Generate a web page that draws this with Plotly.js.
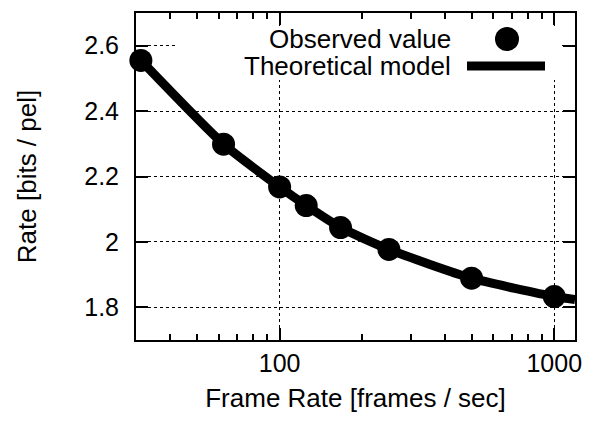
<!DOCTYPE html>
<html>
<head>
<meta charset="utf-8">
<script src="https://cdn.plot.ly/plotly-3.0.1.min.js"></script>
<style>html,body{margin:0;padding:0;background:#fff;}#chart{width:594px;height:422px;}</style>
</head>
<body>
<div id="chart"></div>
<script>
// Observed values
var obsFrameRate = [31.25, 62.5, 100, 125, 166.7, 250, 500, 1000];
var obsRate = [2.555, 2.299, 2.168, 2.111, 2.044, 1.977, 1.889, 1.833];
// Theoretical model curve
var modelFrameRate = [31.25, 62.5, 100, 125, 166.7, 250, 500, 1000, 1190];
var modelRate = [2.555, 2.299, 2.168, 2.111, 2.044, 1.977, 1.889, 1.833, 1.824];
// Labels
var seriesNames = ["Observed value", "Theoretical model"];
var xTitle = "Frame Rate [frames / sec]";
var yTitle = "Rate [bits / pel]";
var yTickVals = [1.8, 2, 2.2, 2.4, 2.6];
var xTickVals = [100, 1000];

var FONT = "Liberation Sans, Arial, Helvetica, sans-serif";

var traces = [
  {
    x: modelFrameRate, y: modelRate, type: "scatter", mode: "lines",
    name: seriesNames[1], line: {color: "#000", width: 9, shape: "spline", smoothing: 0.6},
    showlegend: false, hoverinfo: "skip"
  },
  {
    x: obsFrameRate, y: obsRate, type: "scatter", mode: "markers",
    name: seriesNames[0], marker: {color: "#000", size: 23, symbol: "circle"},
    cliponaxis: false, showlegend: false
  }
];

// legend geometry in paper coordinates (plot area 439 x 327 px)
function px(x) { return (x - 136) / 439; }
function py(y) { return (340 - y) / 327; }

var layout = {
  width: 594, height: 422,
  margin: {l: 136, r: 19, t: 13, b: 82, pad: 0},
  paper_bgcolor: "#fff", plot_bgcolor: "#fff",
  font: {family: FONT, color: "#000", size: 25},
  showlegend: false,
  xaxis: {
    type: "log",
    range: [Math.log10(30), Math.log10(1190)],
    tickvals: xTickVals, ticktext: xTickVals.map(String),
    ticks: "inside", ticklen: 12, tickwidth: 2, tickcolor: "#000",
    minor: {dtick: "D1", ticks: "inside", ticklen: 6, tickwidth: 2, tickcolor: "#000", showgrid: false},
    showline: true, linecolor: "#000", linewidth: 2, mirror: "allticks",
    showgrid: true, gridcolor: "#000", gridwidth: 1, griddash: "dot",
    zeroline: false,
    tickfont: {size: 25, family: FONT},
    ticklabelstandoff: 0,
    automargin: false,
    title: {text: xTitle, font: {size: 26, family: FONT}, standoff: 13}
  },
  yaxis: {
    range: [1.7, 2.7],
    tickvals: yTickVals, ticktext: yTickVals.map(String),
    ticks: "inside", ticklen: 12, tickwidth: 2, tickcolor: "#000",
    showline: true, linecolor: "#000", linewidth: 2, mirror: "allticks",
    showgrid: true, gridcolor: "#000", gridwidth: 1, griddash: "dot",
    zeroline: false,
    tickfont: {size: 25, family: FONT},
    ticklabelstandoff: 10,
    automargin: false,
    title: {text: yTitle, font: {size: 26, family: FONT}, standoff: 40}
  },
  shapes: [
    // opaque key box hiding the grid behind the legend (kept clear of the ticks)
    {type: "rect", xref: "paper", yref: "paper", layer: "above",
     x0: px(175), x1: px(562), y0: py(80), y1: py(26),
     fillcolor: "#fff", line: {width: 0}},
    // legend symbol: observed value
    {type: "circle", xref: "paper", yref: "paper", layer: "above",
     x0: px(495), x1: px(519), y0: py(51), y1: py(27),
     fillcolor: "#000", line: {width: 0}},
    // legend symbol: theoretical model
    {type: "line", xref: "paper", yref: "paper", layer: "above",
     x0: px(467), x1: px(545), y0: py(66), y1: py(66),
     line: {color: "#000", width: 9}}
  ],
  annotations: [
    {xref: "paper", yref: "paper", x: px(453), y: py(39), xanchor: "right", yanchor: "middle",
     text: seriesNames[0], showarrow: false, font: {size: 26, family: FONT, color: "#000"}},
    {xref: "paper", yref: "paper", x: px(453), y: py(66), xanchor: "right", yanchor: "middle",
     text: seriesNames[1], showarrow: false, font: {size: 26, family: FONT, color: "#000"}}
  ]
};

Plotly.newPlot("chart", traces, layout, {staticPlot: true, displayModeBar: false});
</script>
</body>
</html>
